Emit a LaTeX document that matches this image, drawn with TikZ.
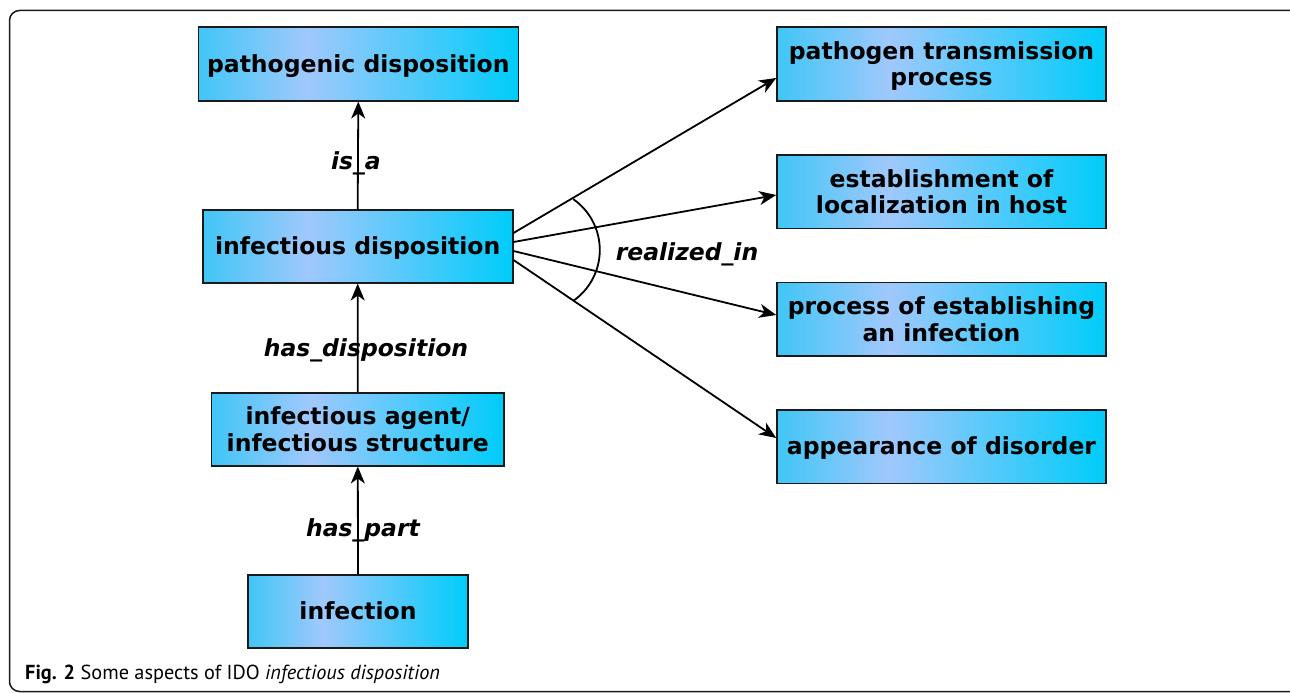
\documentclass[tikz,border=0pt]{standalone}
\usepackage{fontspec}
\setmainfont{DejaVu Sans}
\newfontfamily\capfont{PT Sans}
\usetikzlibrary{arrows.meta,calc}
\definecolor{bxL}{HTML}{40C6F6}
\definecolor{bxM}{HTML}{A0C8FC}
\definecolor{bxR}{HTML}{00CCFA}
\definecolor{edge}{HTML}{1A1A1A}
\pgfdeclarehorizontalshading{boxshade}{100bp}{color(0bp)=(bxL); color(25bp)=(bxL); color(42bp)=(bxM); color(75bp)=(bxR); color(100bp)=(bxR)}
\newcommand{\bxtext}[1]{\raisebox{-2.5pt}[\height][\depth]{\begin{tabular}{@{}c@{}}#1\end{tabular}}}
\newcommand{\bxtwo}[1]{\raisebox{-3.3pt}[\height][\depth]{\fontsize{23.5}{26.5}\selectfont\begin{tabular}{@{}c@{}}#1\end{tabular}}}
\tikzset{
  box/.style={draw=edge, line width=1.6pt, shading=boxshade, inner sep=0pt,
    font=\fontsize{23.5}{28}\selectfont\bfseries},
  arr/.style={draw=black, line width=1.8pt, -{Stealth[length=17pt,width=14pt,inset=5pt]}},
  rel/.style={font=\fontsize{23.5}{28}\selectfont\bfseries\itshape, anchor=base, inner sep=0pt},
}
\begin{document}
\begin{tikzpicture}[x=1pt,y=-1pt]
\useasboundingbox (0,0) rectangle (1290,693);
\fill[white] (0,0) rectangle (1290,693);
\draw[line width=1.5pt, rounded corners=10pt, color=edge] (9.5,10.5) rectangle (1305,691.5);

\node[box, minimum width=320pt, minimum height=73.4pt] (pd) at (358.3,64) {\bxtext{pathogenic disposition}};
\node[box, minimum width=310pt, minimum height=72.7pt] (id) at (357.7,246.4) {\bxtext{infectious disposition}};
\node[box, minimum width=292.3pt, minimum height=73pt] (ag) at (357.8,429.2) {\bxtwo{infectious agent/\\infectious structure}};
\node[box, minimum width=220pt, minimum height=73pt] (inf) at (358,611.5) {\bxtext{infection}};

\node[box, minimum width=329pt, minimum height=73.4pt] (ptp) at (941.5,64) {\bxtwo{pathogen transmission\\process}};
\node[box, minimum width=329pt, minimum height=73.3pt] (est) at (941.5,191.7) {\bxtwo{establishment of\\localization in host}};
\node[box, minimum width=329pt, minimum height=73.3pt] (pei) at (941.5,319.3) {\bxtwo{process of establishing\\an infection}};
\node[box, minimum width=329pt, minimum height=73.3pt] (aod) at (941.5,446.7) {\bxtext{appearance of disorder}};

\draw[arr] (id.north) -- (pd.south);
\draw[arr] (ag.north) -- (id.south);
\draw[arr] (inf.north) -- (ag.south);

\coordinate (s1) at ($(id.east)+(0,-13.4)$);
\coordinate (s2) at ($(id.east)+(0,-4.4)$);
\coordinate (s3) at ($(id.east)+(0,4.6)$);
\coordinate (s4) at ($(id.east)+(0,13.6)$);
\coordinate (e1) at ($(ptp.west)+(0,14)$);
\coordinate (e2) at ($(est.west)+(0,3.3)$);
\coordinate (e3) at ($(pei.west)+(0,-4.3)$);
\coordinate (e4) at ($(aod.west)+(0,-8.7)$);
\draw[arr] (s1) -- (e1);
\draw[arr] (s2) -- (e2);
\draw[arr] (s3) -- (e3);
\draw[arr] (s4) -- (e4);

\coordinate (ac) at ($(id.east)+(24.3,3.6)$);
\draw[line width=1.8pt] (ac) ++(55:62pt) arc[start angle=55, end angle=-55, radius=62pt];

\node[rel] (lisa) at (356,169) {is\_a};
\node[rel] (lhd) at (366,356.7) {has\_disposition};
\node[rel] (lhp) at (363,536) {has\_part};
\node[rel] (lri) at (687,260) {realized\_in};

\node[anchor=base west, inner sep=0pt, font=\capfont\fontsize{20.3}{24}\selectfont] (cap) at (25,679)
  {\textbf{Fig. 2} Some aspects of IDO \textit{infectious disposition}};
\end{tikzpicture}
\end{document}
